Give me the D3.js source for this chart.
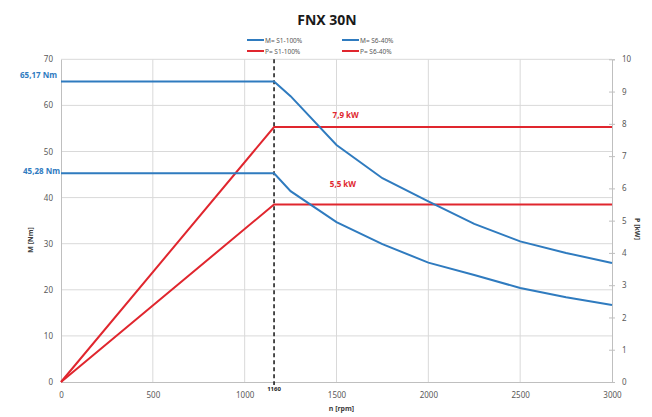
<!DOCTYPE html>
<html><head><meta charset="utf-8">
<script src="https://cdn.jsdelivr.net/npm/d3@7"></script>
<style>body{margin:0;background:#fff}svg{display:block}text{font-family:"Noto Sans",Arial,sans-serif}</style>
</head><body><svg id="c" width="652" height="417"></svg>
<script>
const title = "FNX 30N";
const xTicks = [0, 500, 1000, 1500, 2000, 2500, 3000];
const yTicksM = [0, 10, 20, 30, 40, 50, 60, 70];
const yTicksP = [0, 1, 2, 3, 4, 5, 6, 7, 8, 9, 10];
const cornerSpeed = 1160;
// Torque curves (n [rpm], M [Nm])
const torqueS1 = [[0,65.17],[1160,65.17],[1250,62],[1500,51.4],[1750,44.2],[2000,39.2],[2250,34.3],[2500,30.5],[2750,28],[3000,25.8]];
const torqueS6 = [[0,45.28],[1160,45.28],[1250,41.4],[1500,34.7],[1750,29.9],[2000,25.9],[2250,23.2],[2500,20.4],[2750,18.4],[3000,16.7]];
// Power curves (n [rpm], P [kW])
const powerS1 = [[0,0],[1160,7.9],[3000,7.9]];
const powerS6 = [[0,0],[1160,5.5],[3000,5.5]];
const seriesNames = ["M= S1-100%","M= S6-40%","P= S1-100%","P= S6-40%"];
const labelsM = ["65,17 Nm","45,28 Nm"];
const labelsP = ["7,9 kW","5,5 kW"];

const blue = "#2f7bbf", red = "#e0262e", grey = "#595959";
const svg = d3.select("#c");
const L = 61, R = 612, T = 59.3, B = 382;
const x = d3.scaleLinear().domain([0,3000]).range([L,R]);
const yM = d3.scaleLinear().domain([0,70]).range([B,T]);
const yP = d3.scaleLinear().domain([0,10]).range([B,T]);

// grid
svg.append("g").selectAll("line").data(yTicksM.slice(1)).join("line")
  .attr("x1",L).attr("x2",R).attr("y1",d=>yM(d)).attr("y2",d=>yM(d))
  .attr("stroke","#d9d9d9").attr("stroke-width",1);
svg.append("g").selectAll("line").data(xTicks.slice(1,-1)).join("line")
  .attr("x1",d=>x(d)).attr("x2",d=>x(d)).attr("y1",T).attr("y2",B)
  .attr("stroke","#d9d9d9").attr("stroke-width",1);

// axes
const ax = svg.append("g").attr("transform",`translate(0,${B})`)
  .call(d3.axisBottom(x).tickValues(xTicks).tickSize(0).tickPadding(10).tickFormat(d3.format("d")));
const ayL = svg.append("g").attr("transform",`translate(${L},0)`)
  .call(d3.axisLeft(yM).tickValues(yTicksM).tickSize(0).tickPadding(8));
const ayR = svg.append("g").attr("transform",`translate(${R},0)`)
  .call(d3.axisRight(yP).tickValues(yTicksP).tickSize(3).tickPadding(7));
ayR.selectAll(".tick line").attr("x1",-3).attr("x2",3);
[ax,ayL,ayR].forEach(g=>{
  g.select(".domain").attr("stroke","#bfbfbf");
  g.selectAll(".tick line").attr("stroke","#bfbfbf");
  g.selectAll("text").attr("fill",grey).style("font-size","8px").style("font-family","Noto Sans");
});

// axis titles
svg.append("text").attr("transform",`translate(33,240) rotate(-90)`).attr("text-anchor","middle")
  .style("font-size","7px").style("font-weight","bold").attr("fill","#404040").text("M [Nm]");
svg.append("text").attr("transform",`translate(635,229) rotate(90)`).attr("text-anchor","middle")
  .style("font-size","7px").style("font-weight","bold").attr("fill","#404040").text("P [kW]");
svg.append("text").attr("x",(L+R)/2+5).attr("y",411).attr("text-anchor","middle")
  .style("font-size","7px").style("font-weight","bold").attr("fill","#404040").text("n [rpm]");

// dashed corner line
svg.append("line").attr("x1",x(cornerSpeed)).attr("x2",x(cornerSpeed)).attr("y1",T).attr("y2",B+3)
  .attr("stroke","#222").attr("stroke-width",1.6).attr("stroke-dasharray","4,3");
svg.append("text").attr("x",x(cornerSpeed)).attr("y",B+9).attr("text-anchor","middle")
  .style("font-size","6px").style("font-weight","bold").attr("fill","#222").text(cornerSpeed);

// lines
const lineM = d3.line().x(d=>x(d[0])).y(d=>yM(d[1]));
const lineP = d3.line().x(d=>x(d[0])).y(d=>yP(d[1]));
[[powerS1,lineP,red],[powerS6,lineP,red],[torqueS1,lineM,blue],[torqueS6,lineM,blue]].forEach(([d,l,c])=>{
  svg.append("path").attr("d",l(d)).attr("fill","none").attr("stroke",c).attr("stroke-width",2);
});

// value labels
svg.append("text").attr("x",57).attr("y",yM(torqueS1[0][1])-4).attr("text-anchor","end")
  .style("font-size","8px").style("font-weight","bold").attr("fill",blue).text(labelsM[0]);
svg.append("text").attr("x",60).attr("y",yM(torqueS6[0][1])+1).attr("text-anchor","end")
  .style("font-size","8px").style("font-weight","bold").attr("fill",blue).text(labelsM[1]);
svg.append("text").attr("x",x(1550)).attr("y",yP(powerS1[1][1])-9).attr("text-anchor","middle")
  .style("font-size","8px").style("font-weight","bold").attr("fill",red).text(labelsP[0]);
svg.append("text").attr("x",x(1535)).attr("y",yP(powerS6[1][1])-18).attr("text-anchor","middle")
  .style("font-size","8px").style("font-weight","bold").attr("fill",red).text(labelsP[1]);

// title
svg.append("text").attr("x",327).attr("y",25).attr("text-anchor","middle")
  .style("font-size","14px").style("font-weight","bold").attr("fill","#1a1a1a").text(title);

// legend
const legPos = [[247,40],[342,40],[247,51],[342,51]];
const legCol = [blue,blue,red,red];
seriesNames.forEach((n,i)=>{
  const [lx,ly] = legPos[i];
  svg.append("line").attr("x1",lx).attr("x2",lx+17).attr("y1",ly).attr("y2",ly).attr("stroke",legCol[i]).attr("stroke-width",2);
  svg.append("text").attr("x",lx+18).attr("y",ly+2.5).style("font-size","6.5px").attr("fill",grey).text(n);
});
</script></body></html>
